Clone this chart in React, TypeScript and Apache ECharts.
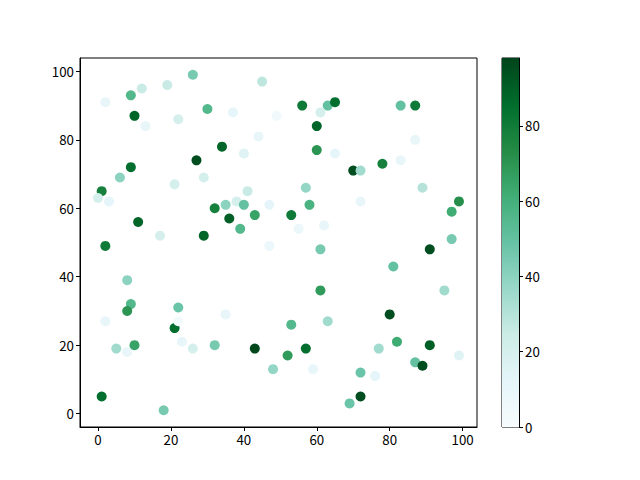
import React, { useEffect, useRef } from "react";
import * as echarts from "echarts";

const xs = [26,45,12,19,9,2,30,37,49,10,22,13,44,34,40,27,9,6,29,21,1,0,3,41,38,35,40,47,32,43,36,11,39,17,29,47,2,56,63,65,61,83,87,60,87,60,65,78,83,70,72,57,89,72,58,99,53,97,62,55,97,61,91,8,9,8,2,22,35,21,22,23,5,8,10,26,32,43,48,1,18,81,61,95,80,53,63,52,57,59,77,82,91,99,72,76,87,89,72,69];
const ys = [99,97,95,96,93,91,89,88,87,87,86,84,81,78,76,74,72,69,69,67,65,63,62,65,62,61,61,61,60,58,57,56,54,52,52,49,49,90,90,91,88,90,90,84,80,77,76,73,74,71,71,66,66,62,61,62,58,59,55,54,51,48,48,39,32,30,27,31,29,25,27,21,19,18,20,19,20,19,13,5,1,43,36,36,29,26,27,17,19,13,19,21,20,17,12,11,15,14,5,3];
const cs = [45,28,25,25,55,10,55,12,5,88,20,10,10,88,15,95,85,40,20,20,78,20,12,25,20,40,50,12,78,65,90,88,55,20,88,8,80,80,50,85,20,50,80,88,10,70,12,78,10,95,35,38,30,10,58,72,80,62,10,8,45,45,95,40,55,70,10,48,10,85,3,10,35,10,65,20,45,97,38,85,45,50,68,35,95,55,35,68,85,10,35,62,90,15,48,12,50,95,95,48];

const xTicks = [0, 20, 40, 60, 80, 100];
const yTicks = [0, 20, 40, 60, 80, 100];
const cbTicks = [0, 20, 40, 60, 80];
const cMin = 0;
const cMax = 98;
const BuGn = ["#f7fcfd","#e5f5f9","#ccece6","#99d8c9","#66c2a4","#41ae76","#238b45","#006d2c","#00441b"];

const FONT = "'Noto Sans CJK SC', 'Noto Sans', sans-serif";

export default function App() {
  const ref = useRef<HTMLDivElement>(null);
  useEffect(() => {
    const chart = echarts.init(ref.current!, null, { renderer: "svg" });
    const pts = xs.map((x, i) => [x, ys[i], cs[i]]);
    const xr = Math.max(...xs) - Math.min(...xs);
    const yr = Math.max(...ys) - Math.min(...ys);
    const axisCommon = {
      axisLine: { show: true, onZero: false, lineStyle: { color: "#000", width: 1 } },
      axisTick: { show: true, inside: false, length: 4, lineStyle: { color: "#000", width: 1 } },
      splitLine: { show: false },
      axisLabel: { color: "#000", fontSize: 13.3, fontFamily: FONT, margin: 6 },
    };
    chart.setOption({
      animation: false,
      backgroundColor: "#fff",
      grid: [
        { left: 80, top: 58, width: 397, height: 369, show: true, borderColor: "#000", borderWidth: 1, backgroundColor: "transparent" },
        { left: 502, top: 58, width: 17, height: 369, show: true, borderColor: "#000", borderWidth: 1, backgroundColor: "transparent" },
      ],
      xAxis: [
        {
          type: "value", gridIndex: 0,
          min: Math.min(...xs) - 0.05 * xr, max: Math.max(...xs) + 0.05 * xr,
          ...axisCommon,
          axisTick: { ...axisCommon.axisTick, customValues: xTicks },
          axisLabel: { ...axisCommon.axisLabel, customValues: xTicks },
        },
        { type: "category", gridIndex: 1, data: ["c"], show: false, boundaryGap: true },
      ],
      yAxis: [
        {
          type: "value", gridIndex: 0,
          min: Math.min(...ys) - 0.05 * yr, max: Math.max(...ys) + 0.05 * yr,
          ...axisCommon,
          axisTick: { ...axisCommon.axisTick, customValues: yTicks },
          axisLabel: { ...axisCommon.axisLabel, customValues: yTicks },
        },
        {
          type: "value", gridIndex: 1, position: "right", min: cMin, max: cMax,
          ...axisCommon,
          axisTick: { ...axisCommon.axisTick, customValues: cbTicks },
          axisLabel: { ...axisCommon.axisLabel, customValues: cbTicks },
        },
      ],
      visualMap: {
        type: "continuous", show: false, seriesIndex: 0, dimension: 2,
        min: cMin, max: cMax, inRange: { color: BuGn },
      },
      series: [
        {
          type: "scatter", xAxisIndex: 0, yAxisIndex: 0, data: pts,
          symbol: "circle", symbolSize: 10, itemStyle: { opacity: 1 },
        },
        {
          type: "bar", xAxisIndex: 1, yAxisIndex: 1, data: [cMax],
          barWidth: "100%", silent: true,
          itemStyle: {
            color: new echarts.graphic.LinearGradient(0, 1, 0, 0,
              BuGn.map((c, i) => ({ offset: i / (BuGn.length - 1), color: c }))),
          },
        },
      ],
    });
    return () => chart.dispose();
  }, []);
  return <div ref={ref} style={{ position: "absolute", left: 0, top: 0, width: 640, height: 480 }} />;
}
